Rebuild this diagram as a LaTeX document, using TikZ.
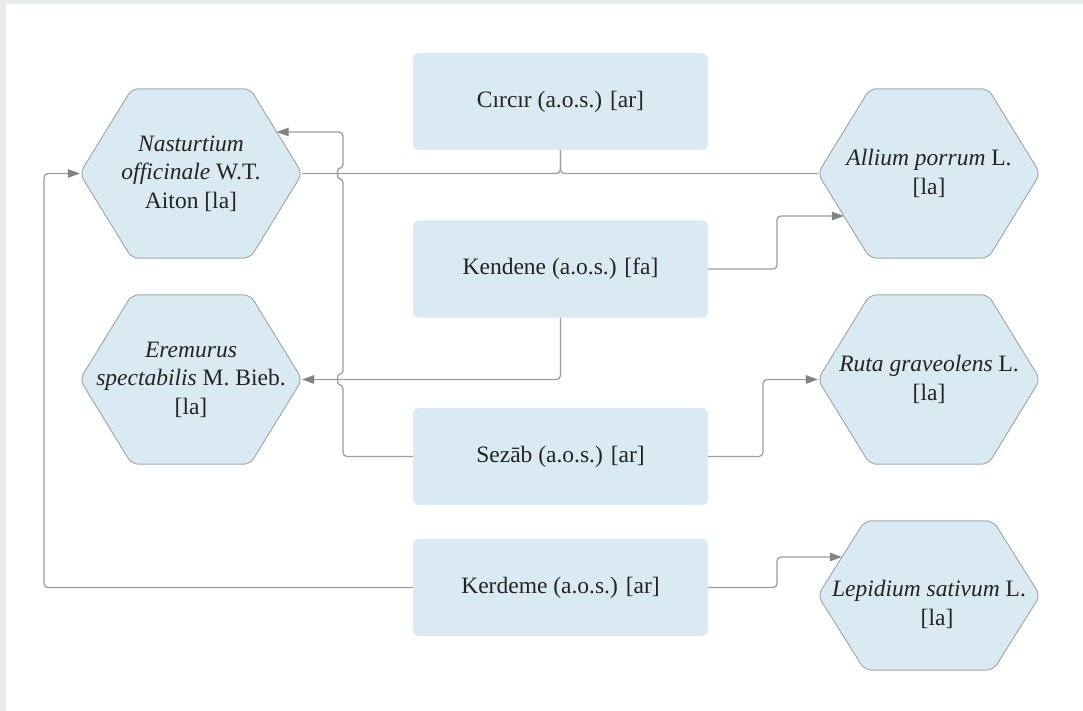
\documentclass[tikz,border=0pt]{standalone}
\usepackage{fontspec}
\setmainfont{Liberation Serif}
\usetikzlibrary{arrows.meta,calc,backgrounds}
\definecolor{boxfill}{RGB}{218,234,242}
\definecolor{hexline}{RGB}{160,170,176}
\definecolor{conn}{RGB}{158,158,158}
\definecolor{tipc}{RGB}{130,130,130}
\definecolor{framec}{RGB}{233,236,236}
\definecolor{txt}{RGB}{35,35,35}
\newcommand\hexshape[2]{%
  \path[hexdraw] (#1.west) -- ($(#1.north west)+(#2,0)$) -- ($(#1.north east)+(-#2,0)$)
    -- (#1.east) -- ($(#1.south east)+(-#2,0)$) -- ($(#1.south west)+(#2,0)$) -- cycle;}
\begin{document}
\begin{tikzpicture}[x=1pt,y=-1pt,
  rectbox/.style={fill=boxfill, rounded corners=6pt, minimum width=295pt, minimum height=97pt,
    inner sep=0pt, text=txt, font=\fontsize{23.5}{28}\selectfont},
  hexbox/.style={minimum width=222pt, minimum height=169pt, inner sep=0pt, align=center,
    text=txt, font=\fontsize{23.5}{28.5}\selectfont},
  hexdraw/.style={fill=boxfill, draw=hexline, line width=1pt, rounded corners=7pt},
  link/.style={draw=conn, line width=1.3pt, rounded corners=4pt},
  arr/.style={-{Triangle[length=12pt,width=8.5pt,color=tipc]}}
]
\useasboundingbox (0,0) rectangle (1083,711);

% rectangles
\node[rectbox] (circir)  at (560.5,101.5) {Cırcır (a.o.s.) [ar]};
\node[rectbox] (kendene) at (560.5,269)   {Kendene (a.o.s.) [fa]};
\node[rectbox] (sezab)   at (560.5,456.5) {Sezāb (a.o.s.) [ar]};
\node[rectbox] (kerdeme) at (560.5,587.5) {Kerdeme (a.o.s.) [ar]};

% hexagons
\node[hexbox] (nast) at (191,173.5) {\textit{Nasturtium}\\\textit{officinale} W.T.\\Aiton [la]};
\node[hexbox] (erem) at (191,379.5) {\textit{Eremurus}\\\textit{spectabilis} M. Bieb.\\{}[la]};
\node[hexbox] (allium) at (929,173.5) {\textit{Allium porrum} L.\\{}[la]};
\node[hexbox] (ruta) at (929,379.5) {\textit{Ruta graveolens} L.\\{}[la]};
\node[hexbox, minimum height=149pt] (lepid) at (929,595.5) {};
\node[align=center, inner sep=0pt, text=txt, font=\fontsize{23.5}{28.5}\selectfont]
  (lepidlbl) at ($(lepid.center)+(0,9)$) {\textit{Lepidium sativum} L.\\\hspace*{16pt}[la]};

\begin{scope}[on background layer]
  \fill[white] (0,0) rectangle (1083,711);
  \fill[framec] (0,0) rectangle (1083,4);
  \fill[framec] (0,0) rectangle (6,711);
  \hexshape{nast}{52}
  \hexshape{erem}{52}
  \hexshape{allium}{52}
  \hexshape{ruta}{52}
  \hexshape{lepid}{47}
\end{scope}

% connectors
\draw[link] (circir.south) -- (circir.south |- nast.east) -- (nast.east);
\draw[link] (circir.south) -- (circir.south |- allium.west) -- (allium.west);

\draw[link,arr] (sezab.west) -- (343,456.5) -- (343,384.5)
  .. controls (337,384.5) and (337,374.5) .. (343,374.5) -- (343,178.5)
  .. controls (337,178.5) and (337,168.5) .. (343,168.5) -- (343,132)
  -- ($(nast.east)+(-25.5,-41.5)$);

\draw[link,arr] (kendene.south) -- (kendene.south |- erem.east) -- (erem.east);
\draw[link,arr] (kendene.east) -- (777,269) -- (777,216) -- ($(allium.west)+(26,42.5)$);
\draw[link,arr] (sezab.east) -- (763,456.5) -- (763,379.5) -- (ruta.west);
\draw[link,arr] (kerdeme.east) -- (777,587.5) -- (777,557) -- ($(lepid.west)+(24,-38.5)$);
\draw[link,arr] (kerdeme.west) -- (44,587.5) -- (44,173.5) -- (nast.west);
\end{tikzpicture}
\end{document}
